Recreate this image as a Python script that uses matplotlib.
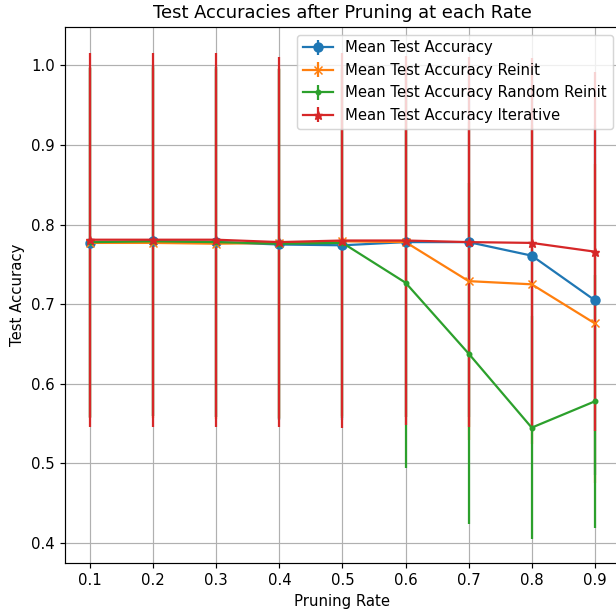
import matplotlib.pyplot as plt
import numpy as np

rates = [0.1, 0.2, 0.3, 0.4, 0.5, 0.6, 0.7, 0.8, 0.9]

acc_mean = [0.777, 0.779, 0.778, 0.775, 0.774, 0.778, 0.778, 0.761, 0.705]
acc_std = [0.22, 0.22, 0.22, 0.22, 0.22, 0.22, 0.22, 0.22, 0.22]

reinit_mean = [0.777, 0.777, 0.776, 0.777, 0.779, 0.778, 0.729, 0.725, 0.676]
reinit_std = [0.22, 0.22, 0.22, 0.22, 0.22, 0.22, 0.2, 0.2, 0.2]

rand_mean = [0.778, 0.779, 0.778, 0.776, 0.777, 0.727, 0.638, 0.545, 0.578]
rand_std = [0.22, 0.22, 0.22, 0.22, 0.22, 0.233, 0.214, 0.14, 0.159]

iter_mean = [0.781, 0.781, 0.781, 0.778, 0.780, 0.780, 0.778, 0.777, 0.766]
iter_std = [0.235, 0.235, 0.235, 0.232, 0.235, 0.232, 0.232, 0.232, 0.225]

DPI = 107
fig = plt.figure(figsize=(616 / DPI, 609 / DPI), dpi=DPI)
ax = fig.add_axes([0.1055, 0.0755, 0.901, 0.880])

ax.errorbar(rates, acc_mean, yerr=acc_std, marker='o', label='Mean Test Accuracy')
ax.errorbar(rates, reinit_mean, yerr=reinit_std, marker='x', label='Mean Test Accuracy Reinit')
ax.errorbar(rates, rand_mean, yerr=rand_std, marker='.', label='Mean Test Accuracy Random Reinit')
ax.errorbar(rates, iter_mean, yerr=iter_std, marker='*', label='Mean Test Accuracy Iterative')

ax.set_xticks(rates)
ax.set_ylim(0.375, 1.048)
ax.set_xlabel('Pruning Rate')
ax.set_ylabel('Test Accuracy')
ax.set_title('Test Accuracies after Pruning at each Rate')
ax.legend(loc='upper right')
ax.grid(True)

fig.savefig('out.png', dpi=DPI)
